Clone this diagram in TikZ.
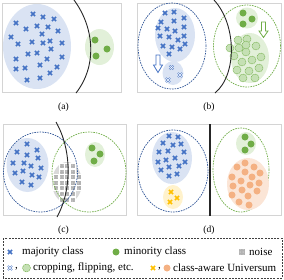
\documentclass[tikz,border=0pt]{standalone}
\usepackage{fontspec}
\setmainfont{Liberation Serif}
\usepackage{tikz}
\usetikzlibrary{
  arrows.meta,
  positioning,
  shapes.geometric,
  patterns
}
\definecolor{majc}{HTML}{4472C4}
\definecolor{majfill}{HTML}{DAE3F3}
\definecolor{majline}{HTML}{2F5597}
\definecolor{minc}{HTML}{70AD47}
\definecolor{minfill}{HTML}{E2F0D9}
\definecolor{augfill}{HTML}{C5E0B4}
\definecolor{unic}{HTML}{FFC000}
\definecolor{unifill}{HTML}{FFF2CC}
\definecolor{orac}{HTML}{F4B183}
\definecolor{orafill}{HTML}{FBE5D6}

\begin{document}
\begin{tikzpicture}[x=1pt,y=-1pt,
  panel/.style={draw=black!17,line width=0.8pt},
  cl/.style={ellipse,inner sep=0pt},
  dsh/.style={cl,draw,line width=0.7pt,dash pattern=on 1.6pt off 1pt},
  bound/.style={line width=0.9pt,black!85},
  lab/.style={font=\fontsize{9.5}{11}\selectfont},
  leg/.style={font=\fontsize{11}{13}\selectfont,anchor=west,inner sep=0pt},
  dot/.style={circle,inner sep=0pt,minimum size=7pt},
  aug/.style={circle,inner sep=0pt,minimum size=8pt,fill=augfill,draw=minc,line width=0.5pt,dash pattern=on 1pt off 0.7pt},
  noisesq/.style={rectangle,inner sep=0pt,minimum size=5pt,fill=black!30,draw=white,line width=0.3pt,pattern color=white},
  hollow/.style={fill=white,line width=0.8pt,line join=miter},
  xmark/.pic={\draw[line width=1.5pt] (-2.1,-2.1)--(2.1,2.1) (-2.1,2.1)--(2.1,-2.1);},
  xaug/.pic={\draw[majc,line width=1.6pt] (-2.1,-2.1)--(2.1,2.1) (-2.1,2.1)--(2.1,-2.1);
             \draw[white,line width=0.45pt] (-2.1,-2.1)--(2.1,2.1) (-2.1,2.1)--(2.1,-2.1);}
]
\useasboundingbox (0,0) rectangle (284,279);

% panel frames
\draw[panel] (2,3) rectangle (121,92);
\draw[panel] (137,3) rectangle (281,92);
\draw[panel] (3,124) rectangle (126,215);
\draw[panel] (137,124) rectangle (281,215);

% (a)
\node[cl,fill=majfill,minimum width=68pt,minimum height=85pt] (majA) at (37,46.5) {};
\node[cl,fill=minfill,minimum width=29pt,minimum height=36pt] (minA) at (99.5,47) {};
\foreach \x/\y in {33/14,43/17,54/19,16/23,26/29,37/26,48/27,58/31,42/34,11/37,
  18/44,32/42,43/43,50/41,62/43,51/49,28/54,37/53,16/59,47/59,62/57,16/69,
  25/68,40/65,57/67,50/73,27/80,40/78}
  \pic[majc] at (\x,\y) {xmark};
\foreach \x/\y in {95/40,107/49,96/56}
  \node[dot,fill=minc] at (\x,\y) {};
\draw[bound] (74,0) .. controls (96,30) and (96,68) .. (76,93);
\node[lab] (la) at (63.5,107) {(a)};

% (b)
\node[dsh,draw=majline,minimum width=68pt,minimum height=86pt] (dsB) at (172,46) {};
\node[cl,fill=majfill,minimum width=40pt,minimum height=54pt] (majB) at (175,35) {};
\node[cl,fill=majfill,minimum width=21pt,minimum height=24pt] (augB) at (173,73) {};
\foreach \x/\y in {165/13,174/12,184/18,161/22,174/21,158/28,167/29,175/31,184/27,
  160/36,169/37,184/36,178/40,163/46,172/47,185/44,180/49,169/54}
  \pic[majc] at (\x,\y) {xmark};
\foreach \x/\y in {171.5/67.5,180/75,168/80}
  \pic at (\x,\y) {xaug};
\draw[hollow,draw=majc] (156,55) -- (160,55) -- (160,65) -- (162.5,65) -- (158,72.5)
  -- (153.5,65) -- (156,65) -- cycle;
\node[dsh,draw=minc,minimum width=67pt,minimum height=82pt] (dsB2) at (247,46) {};
\node[cl,fill=minfill,minimum width=22pt,minimum height=21pt] (minB) at (247,18) {};
\node[cl,fill=minfill,minimum width=38pt,minimum height=50pt] (augminB) at (250,58) {};
\foreach \x/\y in {243/13,252/19,243/24}
  \node[dot,fill=minc] at (\x,\y) {};
\foreach \x/\y in {238/40,247/39,256/46,239/48,246/52,234/56,242/62,252/60,261/57,
  237/70,249/71,259/68,243/78,255/78,246/45,230/48}
  \node[aug] at (\x,\y) {};
\draw[hollow,draw=minc] (261.5,22) -- (265.5,22) -- (265.5,31) -- (268,31) -- (263.5,37.5)
  -- (259,31) -- (261.5,31) -- cycle;
\draw[bound] (214,0) .. controls (237,25) and (237,75) .. (215,93);
\node[lab] (lb) at (209,107) {(b)};

% (c)
\node[cl,fill=majfill,minimum width=42pt,minimum height=54pt] (majC) at (27.5,165) {};
\node[cl,fill=minfill,minimum width=20pt,minimum height=25pt] (minC) at (95,154.5) {};
\node[cl,fill=black!15,minimum width=30pt,minimum height=41pt] (noiseC) at (67,182.5) {};
\foreach \i in {-2,...,2}
  \foreach \j in {-3,...,3} {
    \pgfmathsetmacro\dd{(\i*5.6/15)^2+(\j*5.6/20.5)^2}
    \ifdim\dd pt<0.85pt
      \node[noisesq] at (67+\i*5.6,182.5+\j*5.6) {};
      \node[noisesq,fill=none,draw=none,pattern=dots] at (67+\i*5.6,182.5+\j*5.6) {};
    \fi
  }
\node[dsh,draw=majline,minimum width=74pt,minimum height=80pt] (dsC) at (40.5,172) {};
\node[dsh,draw=minc,minimum width=74pt,minimum height=80pt] (dsC2) at (89,172) {};
\foreach \x/\y in {27/144,37/150,17/152,27/155,38/158,13/163,24/163,31/166,41/168,
  15/173,23/171,32/175,39/177,22/182,31/185}
  \pic[majc] at (\x,\y) {xmark};
\foreach \x/\y in {92/148,100/154,94/161}
  \node[dot,fill=minc] at (\x,\y) {};
\draw[bound] (56,122) .. controls (72,150) and (72,190) .. (57,217);
\node[lab] (lc) at (63.5,230) {(c)};

% (d)
\node[dsh,draw=majline,minimum width=70pt,minimum height=82pt] (dsD) at (173,171) {};
\node[cl,fill=majfill,minimum width=40pt,minimum height=52pt] (majD) at (172,158) {};
\node[cl,fill=unifill,minimum width=20pt,minimum height=24pt] (uniD) at (173,197) {};
\foreach \x/\y in {169/136,178/137,163/143,173/145,181/144,159/152,168/151,184/152,
  175/158,158/162,166/160,185/162,179/166,161/170,169/167,169/176,177/174}
  \pic[majc] at (\x,\y) {xmark};
\foreach \x/\y in {171/192,177/198,170/202}
  \pic[unic] at (\x,\y) {xmark};
\node[dsh,draw=minc,minimum width=56pt,minimum height=84pt] (dsD2) at (241,170) {};
\node[cl,fill=minfill,minimum width=20pt,minimum height=23pt] (minD) at (246,143.5) {};
\node[cl,fill=orafill,minimum width=42pt,minimum height=52pt] (oraD) at (248,184) {};
\foreach \x/\y in {245/137,251/144,245/150}
  \node[dot,fill=minc] at (\x,\y) {};
\foreach \x/\y in {245/163,237/167,254/167,245/172,232/177,252/177,260/173,241/181,
  250/185,233/186,259/183,242/190,257/191,248/196,232/195,239/202,249/205}
  \node[dot,fill=orac] at (\x,\y) {};
\draw[line width=1.1pt,black!85] (210,124) -- (210,216);
\node[lab] (ld) at (209,230) {(d)};

% legend
\draw[black!75,line width=0.7pt,dash pattern=on 2pt off 1.2pt] (3,238) rectangle (282,278);
\pic[majc] at (10,252) {xmark};
\node[leg] (l1) at (22,252) {majority class};
\node[dot,fill=minc] (l2d) at (116,252) {};
\node[leg] (l2) at (124,252) {minority class};
\node[noisesq,minimum size=7pt] (l3s) at (242,252) {};
\node[noisesq,minimum size=7pt,fill=none,draw=none,pattern=dots] at (242,252) {};
\node[leg] (l3) at (249,252) {noise};
\pic at (10,268) {xaug};
\node[leg] (c1) at (15,268.5) {,};
\node[aug] (l4c) at (26.5,268) {};
\node[leg] (l4) at (33,268) {cropping, flipping, etc.};
\pic[unic] at (153,268) {xmark};
\node[leg] (c2) at (158,268.5) {,};
\node[dot,fill=orac] (l5d) at (167,268) {};
\node[leg] (l5) at (173,268) {class-aware Universum};
\end{tikzpicture}
\end{document}
